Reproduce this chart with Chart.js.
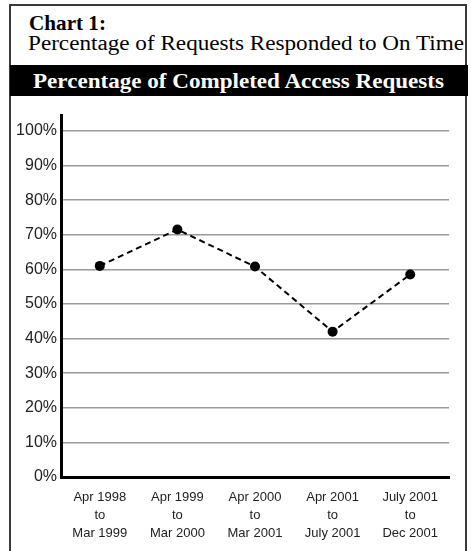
<!DOCTYPE html>
<html>
<head>
<meta charset="utf-8">
<script src="https://cdn.jsdelivr.net/npm/chart.js@4/dist/chart.umd.min.js"></script>
<style>
  html, body { margin: 0; padding: 0; background: #fff; }
  #page { position: relative; width: 471px; height: 551px; overflow: hidden; }
  #frame { position: absolute; left: 9px; top: 4px; width: 454px; height: 560px; border: 2px solid #3a3a3a; }
  .t { position: absolute; white-space: nowrap; font-family: "Liberation Serif", serif; line-height: 1; transform-origin: 0 0; }
  #t1 { left: 29px; top: 12.5px; font-size: 21px; font-weight: bold; color: #000; }
  #t2 { left: 28px; top: 32.5px; font-size: 20px; color: #000; }
  #banner { position: absolute; left: 10px; top: 65px; width: 458px; height: 31px; background: #000; }
  #t3 { left: 33px; top: 70.5px; font-size: 20.5px; font-weight: bold; color: #fff; }
  #c { position: absolute; left: 0; top: 0; }
</style>
</head>
<body>
<div id="page">
  <div id="frame"></div>
  <div id="banner"></div>
  <div class="t" id="t1" data-w="77">Chart 1:</div>
  <div class="t" id="t2" data-w="436">Percentage of Requests Responded to On Time</div>
  <div class="t" id="t3" data-w="411">Percentage of Completed Access Requests</div>
  <canvas id="c" width="471" height="551"></canvas>
</div>
<script>
// Reporting periods (x categories, one line per array entry)
const periods = [
  ["Apr 1998", "to", "Mar 1999"],
  ["Apr 1999", "to", "Mar 2000"],
  ["Apr 2000", "to", "Mar 2001"],
  ["Apr 2001", "to", "July 2001"],
  ["July 2001", "to", "Dec 2001"]
];
// Share of access requests completed on time, in percent
const onTimePct = [61, 71.5, 60.8, 42, 58.5];
// Value axis
const yMin = 0;
const yMax = 100;
const yStep = 10;

// stretch heading lines to their set widths
document.querySelectorAll('.t[data-w]').forEach(el => {
  const w = el.getBoundingClientRect().width;
  el.style.transform = 'scaleX(' + (parseFloat(el.dataset.w) / w) + ')';
});

new Chart(document.getElementById('c'), {
  type: 'line',
  data: {
    labels: periods,
    datasets: [{
      data: onTimePct,
      borderColor: '#000',
      borderWidth: 2,
      borderDash: [6, 4],
      tension: 0,
      pointRadius: 5,
      pointHoverRadius: 5,
      pointBackgroundColor: '#000',
      pointBorderColor: '#000',
      pointBorderWidth: 0
    }]
  },
  options: {
    responsive: false,
    animation: false,
    devicePixelRatio: 1,
    layout: { padding: { top: 115, right: 22, bottom: 0, left: 0 } },
    plugins: { legend: { display: false }, tooltip: { enabled: false }, title: { display: false } },
    scales: {
      x: {
        offset: true,
        grid: { display: false, drawTicks: false },
        border: { display: true, color: '#000', width: 3 },
        ticks: {
          color: '#222',
          padding: 11,
          maxRotation: 0,
          autoSkip: false,
          font: { family: '"Liberation Sans", Arial, sans-serif', size: 13, lineHeight: '18px' }
        },
        afterFit: s => { s.height = 74; }
      },
      y: {
        min: yMin,
        max: yMax + 4.6,
        grid: {
          drawTicks: false,
          lineWidth: 1.5,
          color: ctx => ctx.tick && ctx.tick.value === 0 ? 'rgba(0,0,0,0)' : '#9a9a9a'
        },
        border: { display: true, color: '#000', width: 3 },
        ticks: {
          stepSize: yStep,
          includeBounds: false,
          color: '#222',
          padding: 4,
          font: { family: '"Liberation Sans", Arial, sans-serif', size: 16 },
          callback: v => v + '%'
        },
        afterFit: s => { s.width = 61; }
      }
    }
  }
});
</script>
</body>
</html>
